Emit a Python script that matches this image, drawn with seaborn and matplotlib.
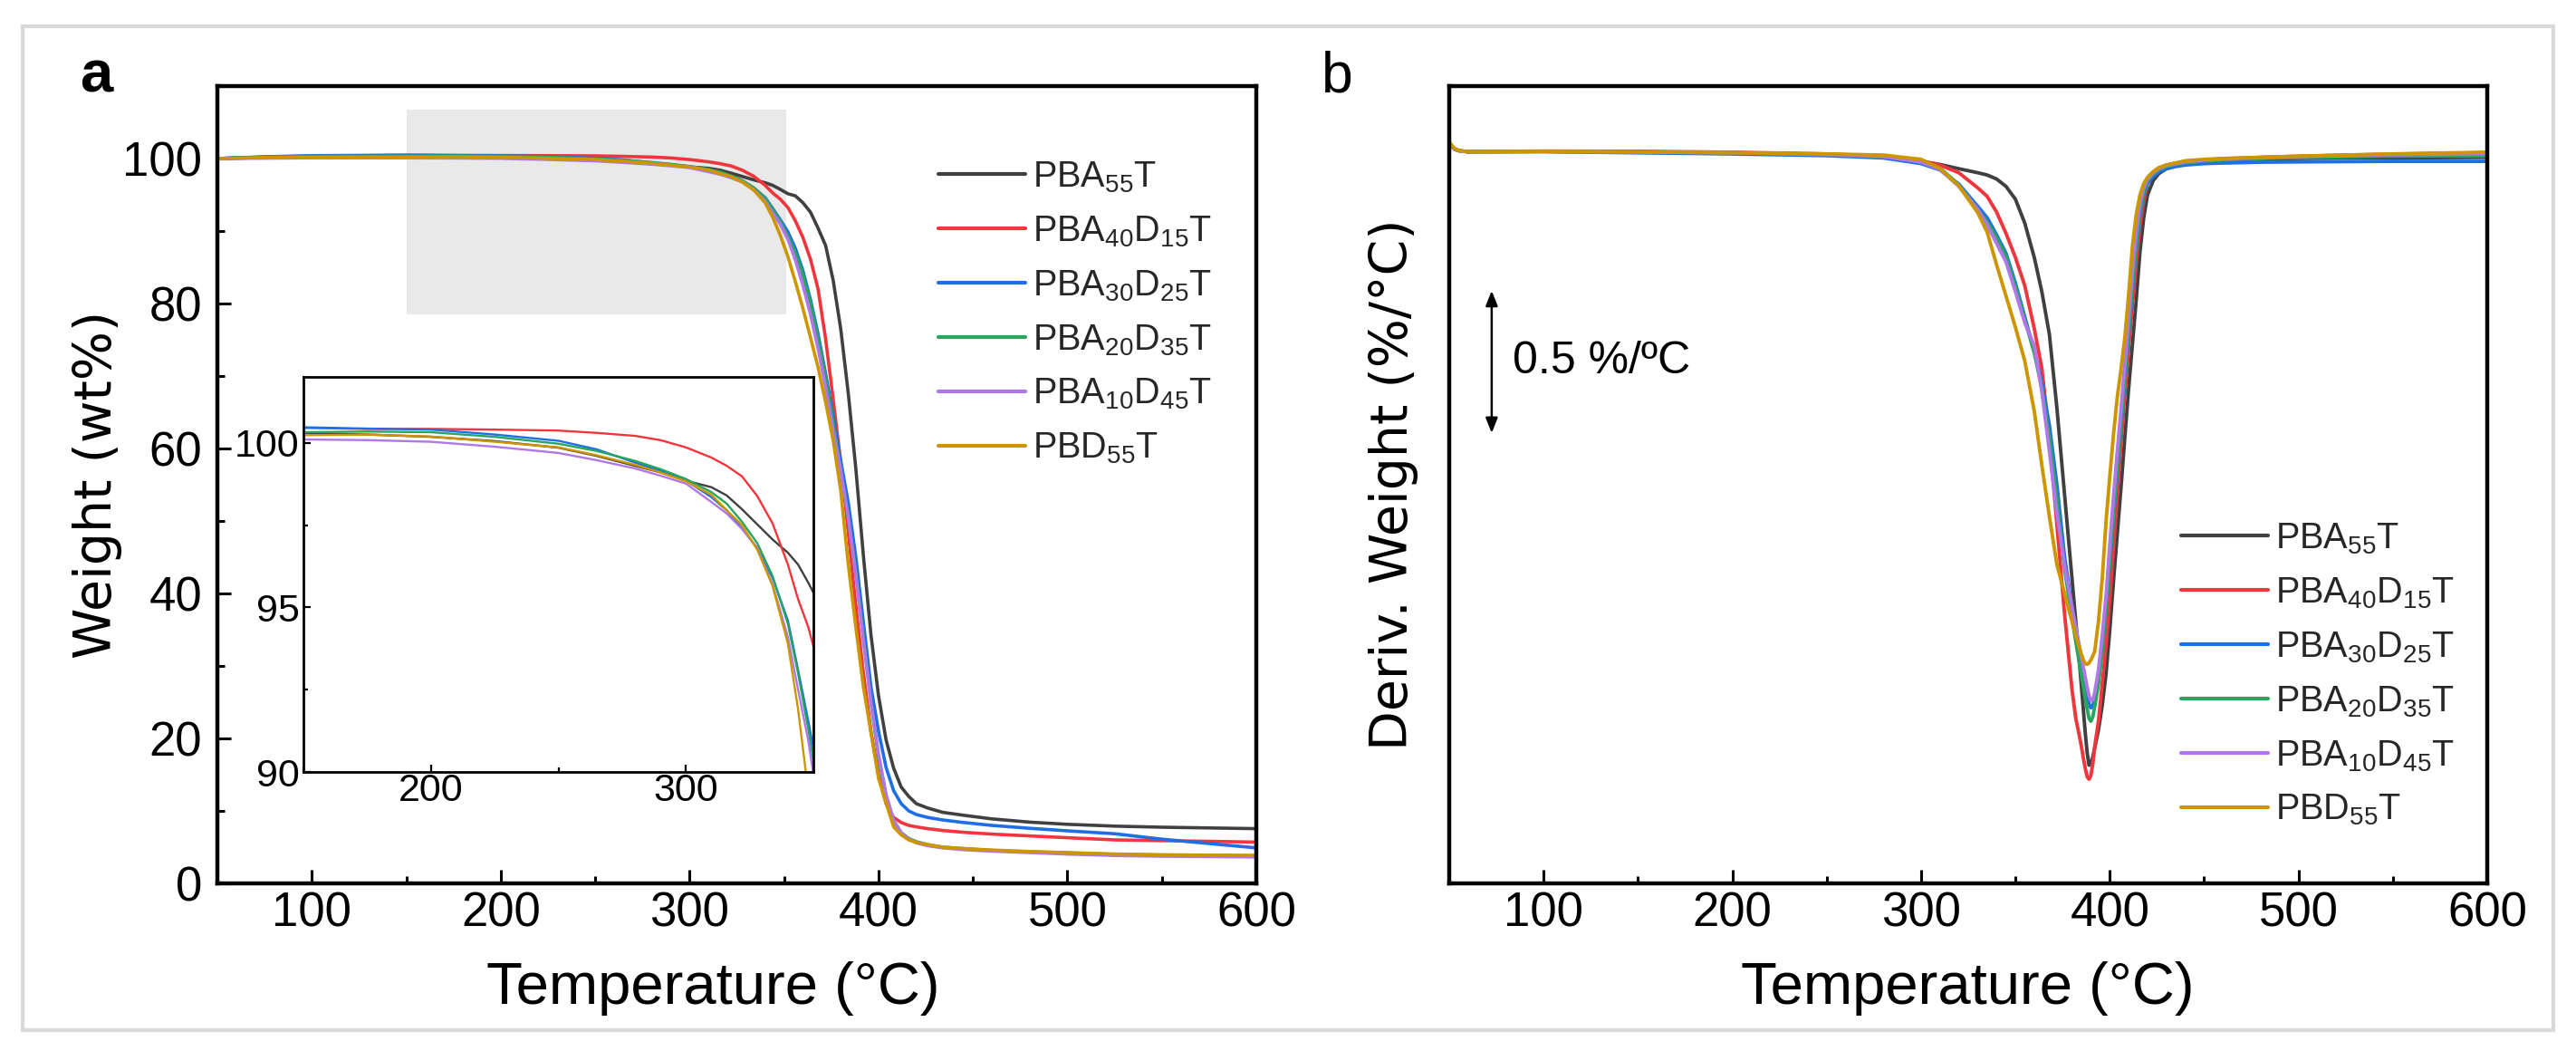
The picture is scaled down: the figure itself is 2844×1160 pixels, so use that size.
import numpy as np
import pandas as pd
import matplotlib
matplotlib.use("Agg")
import matplotlib.pyplot as plt
import seaborn as sns
from matplotlib.ticker import MultipleLocator
from matplotlib.patches import Rectangle

# ---------------- data ----------------
series_labels = [r"PBA$_{55}$T", r"PBA$_{40}$D$_{15}$T", r"PBA$_{30}$D$_{25}$T",
                 r"PBA$_{20}$D$_{35}$T", r"PBA$_{10}$D$_{45}$T", r"PBD$_{55}$T"]
series_colors = ["#404040", "#f0363c", "#1e6ee6", "#28a55f", "#af78e6", "#cd9600"]

# TGA (weight %) vs temperature
T_tga = [50, 75, 100, 150, 175, 200, 225, 250, 265, 280,
         290, 300, 310, 316, 322, 328, 334, 340, 344, 348,
         352, 356, 360, 364, 368, 372, 376, 380, 384, 388,
         392, 396, 400, 404, 408, 412, 416, 420, 426, 434,
         445, 460, 480, 500, 525, 550, 575, 600]

wt_PBA55T = [100.0, 100.15, 100.25, 100.3, 100.25, 100.18, 100.05, 99.85, 99.6, 99.3,
             99.1, 98.85, 98.65, 98.4, 97.98, 97.52, 97.06, 96.66, 96.3, 95.75,
             95.15, 94.85, 93.9, 92.6, 90.4, 88.0, 83.2, 76.5, 67.6, 57.2,
             45.2, 34.3, 25.9, 19.8, 15.9, 13.3, 12.0, 11.0, 10.4, 9.8,
             9.4, 8.9, 8.45, 8.15, 7.9, 7.75, 7.65, 7.55]
wt_PBA40D15T = [100.0, 100.2, 100.35, 100.45, 100.42, 100.42, 100.4, 100.37, 100.3, 100.21,
                100.08, 99.86, 99.55, 99.3, 98.98, 98.38, 97.55, 96.3, 95.25, 94.4,
                93.25, 91.4, 89.1, 86.1, 82.0, 75.1, 66.8, 58.1, 48.5, 38.3,
                29.0, 21.0, 15.0, 11.0, 9.1, 8.4, 8.0, 7.8, 7.55, 7.3,
                7.05, 6.8, 6.55, 6.3, 6.0, 5.9, 5.8, 5.7]
wt_PBA30D25T = [100.0, 100.25, 100.4, 100.47, 100.43, 100.40, 100.25, 100.06, 99.8, 99.40,
                99.15, 98.85, 98.35, 97.95, 97.4, 96.8, 95.9, 94.6, 93.1, 91.55,
                89.9, 87.6, 84.5, 80.5, 75.8, 70.3, 64.5, 58.3, 52.5, 45.0,
                36.0, 27.1, 21.0, 16.0, 12.8, 11.0, 10.0, 9.5, 9.1, 8.75,
                8.4, 8.0, 7.6, 7.25, 6.85, 6.1, 5.5, 4.9]
wt_PBA20D35T = [100.0, 100.2, 100.3, 100.32, 100.34, 100.32, 100.18, 99.97, 99.75, 99.45,
                99.2, 98.9, 98.5, 98.15, 97.6, 96.95, 95.95, 94.5, 93.0, 91.3,
                89.4, 87.0, 84.0, 80.0, 75.2, 69.8, 63.6, 57.0, 50.5, 43.0,
                34.0, 25.0, 17.5, 12.0, 8.6, 7.0, 6.2, 5.75, 5.35, 5.0,
                4.8, 4.55, 4.35, 4.2, 4.0, 3.9, 3.85, 3.8]
wt_PBA10D45T = [100.0, 100.05, 100.1, 100.1, 100.08, 100.03, 99.88, 99.69, 99.47, 99.22,
                99.0, 98.76, 98.2, 97.85, 97.38, 96.8, 95.7, 94.1, 92.5, 90.95,
                88.9, 86.0, 82.5, 78.5, 73.8, 68.5, 62.5, 57.0, 50.5, 42.5,
                33.5, 25.0, 17.8, 12.3, 8.7, 7.0, 6.1, 5.6, 5.2, 4.9,
                4.65, 4.45, 4.25, 4.05, 3.85, 3.75, 3.7, 3.65]
wt_PBD55T = [100.0, 100.15, 100.2, 100.23, 100.25, 100.19, 100.03, 99.86, 99.62, 99.33,
             99.1, 98.83, 98.42, 97.95, 97.5, 96.75, 95.65, 93.9, 91.9, 89.4,
             86.5, 83.0, 79.3, 75.3, 71.2, 66.4, 61.1, 54.2, 44.0, 35.3,
             27.1, 20.8, 14.5, 11.1, 7.8, 6.7, 6.0, 5.65, 5.35, 5.0,
             4.8, 4.6, 4.4, 4.25, 4.05, 3.95, 3.9, 3.85]

# DTG (%/°C) vs temperature
T_dtg = [50, 53, 56, 60, 100, 150, 200, 250, 280, 300,
         310, 320, 330, 335, 340, 345, 350, 355, 360, 364,
         368, 372, 376, 380, 382, 384, 385, 386, 387, 388,
         389, 390, 391, 392, 394, 396, 398, 400, 402, 404,
         406, 408, 410, 412, 414, 416, 418, 420, 423, 426,
         430, 435, 440, 450, 460, 480, 500, 525, 550, 575,
         600]

dtg_PBA55T = [0.030, 0.010, 0.004, 0.002, 0.003, 0.001, -0.002, -0.008, -0.018, -0.032,
              -0.043, -0.058, -0.072, -0.080, -0.094, -0.120, -0.165, -0.250, -0.370, -0.490,
              -0.640, -0.900, -1.200, -1.500, -1.650, -1.800, -1.880, -1.960, -2.040, -2.110,
              -2.155, -2.150, -2.125, -2.095, -2.030, -1.945, -1.835, -1.680, -1.505, -1.340,
              -1.175, -1.000, -0.830, -0.675, -0.520, -0.350, -0.230, -0.150, -0.100, -0.075,
              -0.058, -0.048, -0.040, -0.032, -0.028, -0.024, -0.022, -0.020, -0.020, -0.019,
              -0.018]
dtg_PBA40D15T = [0.030, 0.010, 0.004, 0.002, 0.004, 0.003, 0.000, -0.006, -0.015, -0.030,
                 -0.045, -0.072, -0.125, -0.155, -0.210, -0.285, -0.370, -0.470, -0.620, -0.760,
                 -1.000, -1.310, -1.620, -1.890, -1.990, -2.055, -2.090, -2.130, -2.165, -2.195,
                 -2.204, -2.190, -2.150, -2.090, -2.000, -1.870, -1.730, -1.570, -1.390, -1.200,
                 -1.020, -0.850, -0.690, -0.540, -0.390, -0.260, -0.170, -0.110, -0.075, -0.058,
                 -0.045, -0.038, -0.033, -0.027, -0.023, -0.018, -0.014, -0.010, -0.007, -0.004,
                 -0.002]
dtg_PBA30D25T = [0.030, 0.010, 0.005, 0.002, 0.002, -0.002, -0.006, -0.012, -0.020, -0.040,
                 -0.062, -0.112, -0.190, -0.230, -0.290, -0.355, -0.460, -0.580, -0.700, -0.810,
                 -0.960, -1.170, -1.420, -1.600, -1.670, -1.760, -1.800, -1.840, -1.875, -1.910,
                 -1.940, -1.953, -1.945, -1.920, -1.850, -1.740, -1.610, -1.440, -1.280, -1.120,
                 -0.960, -0.800, -0.640, -0.480, -0.340, -0.220, -0.150, -0.110, -0.085, -0.070,
                 -0.058, -0.050, -0.045, -0.040, -0.038, -0.035, -0.034, -0.033, -0.032, -0.032,
                 -0.032]
dtg_PBA20D35T = [0.030, 0.010, 0.004, 0.002, 0.003, 0.001, -0.002, -0.008, -0.016, -0.030,
                 -0.055, -0.115, -0.200, -0.245, -0.300, -0.365, -0.470, -0.590, -0.705, -0.830,
                 -1.000, -1.220, -1.460, -1.640, -1.720, -1.800, -1.840, -1.880, -1.920, -1.955,
                 -1.990, -2.000, -1.985, -1.950, -1.870, -1.750, -1.610, -1.440, -1.270, -1.110,
                 -0.950, -0.790, -0.630, -0.470, -0.330, -0.210, -0.140, -0.100, -0.077, -0.062,
                 -0.050, -0.043, -0.037, -0.031, -0.027, -0.022, -0.019, -0.016, -0.014, -0.013,
                 -0.013]
dtg_PBA10D45T = [0.030, 0.010, 0.004, 0.002, 0.003, 0.001, -0.002, -0.008, -0.015, -0.035,
                 -0.060, -0.120, -0.200, -0.255, -0.320, -0.385, -0.490, -0.600, -0.680, -0.840,
                 -1.050, -1.270, -1.450, -1.600, -1.670, -1.740, -1.775, -1.810, -1.845, -1.880,
                 -1.910, -1.928, -1.925, -1.900, -1.820, -1.700, -1.560, -1.380, -1.210, -1.050,
                 -0.900, -0.740, -0.580, -0.420, -0.280, -0.180, -0.125, -0.095, -0.072, -0.058,
                 -0.047, -0.040, -0.034, -0.028, -0.024, -0.019, -0.015, -0.012, -0.009, -0.007,
                 -0.005]
dtg_PBD55T = [0.035, 0.012, 0.005, 0.002, 0.003, 0.001, -0.002, -0.006, -0.010, -0.025,
              -0.057, -0.118, -0.212, -0.280, -0.395, -0.505, -0.615, -0.735, -0.910, -1.100,
              -1.280, -1.450, -1.550, -1.650, -1.700, -1.745, -1.765, -1.785, -1.797, -1.800,
              -1.795, -1.785, -1.770, -1.755, -1.650, -1.500, -1.300, -1.140, -0.990, -0.860,
              -0.760, -0.650, -0.500, -0.330, -0.220, -0.150, -0.110, -0.088, -0.068, -0.054,
              -0.045, -0.038, -0.030, -0.025, -0.022, -0.018, -0.014, -0.010, -0.006, -0.003,
              0.000]

tga_series = [wt_PBA55T, wt_PBA40D15T, wt_PBA30D25T, wt_PBA20D35T, wt_PBA10D45T, wt_PBD55T]
dtg_series = [dtg_PBA55T, dtg_PBA40D15T, dtg_PBA30D25T, dtg_PBA20D35T, dtg_PBA10D45T, dtg_PBD55T]

zoom_T = [150, 351]          # highlighted region in panel a
zoom_wt = [78.5, 106.7]
scale_bar = [-0.487, -0.987]  # 0.5 %/°C scale arrow in panel b
scale_bar_T = 72.5

# ---------------- style ----------------
sns.set_theme(style="ticks")
plt.rcParams["font.family"] = ["Liberation Sans", "DejaVu Sans"]
plt.rcParams["mathtext.fontset"] = "custom"
plt.rcParams["mathtext.rm"] = "Liberation Sans"
plt.rcParams["mathtext.it"] = "Liberation Sans:italic"
plt.rcParams["mathtext.bf"] = "Liberation Sans:bold"

W, H = 2844, 1160
fig = plt.figure(figsize=(W / 100, H / 100), dpi=100)
fig.patch.set_facecolor("white")


def fx(px):
    return px / W


def fy(py):
    return 1 - py / H


ax1 = fig.add_axes([fx(240), fy(975), (1387 - 240) / W, 880 / H])
ax2 = fig.add_axes([fx(1600), fy(975), (2746 - 1600) / W, 880 / H])
axin = fig.add_axes([fx(335), fy(852), 563 / W, 436 / H])

SPINE_LW = 3.2
for ax in (ax1, ax2):
    for s in ax.spines.values():
        s.set_linewidth(SPINE_LW)
        s.set_color("black")
        s.set_visible(True)
    ax.set_facecolor("white")
for s in axin.spines.values():
    s.set_linewidth(2.0)
    s.set_color("black")
axin.set_facecolor("white")
axin.set_zorder(3)

# ---------------- panel a ----------------
ax1.fill_between(zoom_T, zoom_wt[0], zoom_wt[1], color="#e9e9e9", lw=0, zorder=0)
for vals, col, lab in zip(tga_series, series_colors, series_labels):
    sns.lineplot(x=T_tga, y=vals, ax=ax1, color=col, lw=2.6, label=lab, sort=False)
    sns.lineplot(x=T_tga, y=vals, ax=axin, color=col, lw=1.7, sort=False, legend=False)

ax1.set_xlim(50, 600)
ax1.set_ylim(0, 110)
ax1.set_xticks([100, 200, 300, 400, 500, 600])
ax1.set_yticks([0, 20, 40, 60, 80, 100])
ax1.xaxis.set_minor_locator(MultipleLocator(50))
ax1.yaxis.set_minor_locator(MultipleLocator(10))
ax1.tick_params(which="major", direction="in", length=10.8, width=2.2, labelsize=38,
                top=False, right=False, color="black", labelcolor="black")
ax1.tick_params(which="minor", direction="in", length=5.8, width=2.2,
                top=False, right=False, color="black")
ax1.tick_params(axis="x", which="major", pad=6)
ax1.tick_params(axis="y", which="major", pad=12)

ax1.set_xlabel("Temperature (°C)", fontsize=47, color="black")
ax1.xaxis.set_label_coords(0.4773, -0.1511)
ax1.xaxis.label.set_va("baseline")
ax1.set_ylabel("Weight (wt%)", fontsize=41, color="black", family=["DejaVu Sans"])
ax1.yaxis.set_label_coords(-0.1151, 0.5)
ax1.yaxis.label.set_va("center")

leg1 = ax1.legend(loc="upper left", bbox_to_anchor=(fx(1036), fy(176)),
                  bbox_transform=fig.transFigure, frameon=False, fontsize=28.5,
                  handlelength=2.42, handletextpad=0.2, labelspacing=0.54,
                  borderpad=0, borderaxespad=0)
for h in leg1.get_lines():
    h.set_linewidth(3.0)

# inset
axin.set_xlim(150, 350)
axin.set_ylim(90, 102)
axin.set_xticks([200, 300])
axin.set_yticks([90, 95, 100])
axin.xaxis.set_minor_locator(MultipleLocator(50))
axin.yaxis.set_minor_locator(MultipleLocator(2.5))
axin.tick_params(which="major", direction="in", length=6, width=1.6, labelsize=31,
                 top=False, right=False, color="black", labelcolor="black")
axin.tick_params(which="minor", direction="in", length=3.5, width=1.6,
                 top=False, right=False, color="black")
axin.tick_params(axis="x", which="major", pad=1)
axin.tick_params(axis="y", which="major", pad=3)
axin.set_xlabel("")
axin.set_ylabel("")

# ---------------- panel b ----------------
for vals, col, lab in zip(dtg_series, series_colors, series_labels):
    sns.lineplot(x=T_dtg, y=vals, ax=ax2, color=col, lw=2.8, label=lab, sort=False)

ax2.set_xlim(50, 600)
ax2.set_ylim(-2.570, 0.2325)
ax2.set_xticks([100, 200, 300, 400, 500, 600])
ax2.set_yticks([])
ax2.xaxis.set_minor_locator(MultipleLocator(50))
ax2.tick_params(which="major", direction="in", length=10.8, width=2.2, labelsize=38,
                top=False, right=False, left=False, color="black", labelcolor="black")
ax2.tick_params(which="minor", direction="in", length=5.8, width=2.2,
                top=False, right=False, left=False, color="black")
ax2.tick_params(axis="x", which="major", pad=6)

ax2.set_xlabel("Temperature (°C)", fontsize=47, color="black")
ax2.xaxis.set_label_coords(0.4991, -0.1511)
ax2.xaxis.label.set_va("baseline")
ax2.set_ylabel("Deriv. Weight (%/°C)", fontsize=41, color="black", family=["DejaVu Sans"])
ax2.yaxis.set_label_coords(-0.0541, 0.5)
ax2.yaxis.label.set_va("center")

leg2 = ax2.legend(loc="upper left", bbox_to_anchor=(fx(2408), fy(575)),
                  bbox_transform=fig.transFigure, frameon=False, fontsize=28.5,
                  handlelength=2.42, handletextpad=0.2, labelspacing=0.54,
                  borderpad=0, borderaxespad=0)
for h in leg2.get_lines():
    h.set_linewidth(3.0)

ax2.annotate("", xy=(scale_bar_T, scale_bar[0]), xytext=(scale_bar_T, scale_bar[1]),
             arrowprops=dict(arrowstyle="<|-|>,head_length=0.55,head_width=0.22",
                             color="black", lw=1.8, shrinkA=0, shrinkB=0,
                             mutation_scale=18))
ax2.text(83.6, np.mean(scale_bar), "0.5 %/ºC", fontsize=36, va="center", ha="left",
         color="black")

# ---------------- panel letters and frame ----------------
fig.text(fx(106), fy(101), "a", fontsize=47, fontweight="bold", ha="center",
         va="baseline", color="black")
fig.text(fx(1476), fy(101), "b", fontsize=45, ha="center", va="baseline", color="black")
fig.add_artist(Rectangle((fx(25), fy(1137)), (2819 - 25) / W, (1137 - 29) / H,
                         transform=fig.transFigure, fill=False,
                         edgecolor="#d9d9d9", lw=3))

fig.savefig("out.png", dpi=100, facecolor="white")
